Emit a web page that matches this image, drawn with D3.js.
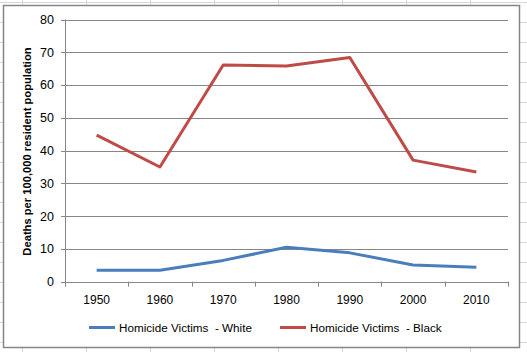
<!DOCTYPE html>
<html>
<head>
<meta charset="utf-8">
<script src="https://cdn.jsdelivr.net/npm/d3@7"></script>
<style>
  html, body { margin: 0; padding: 0; background: #fff; }
  svg text { font-family: "Liberation Sans", Arial, sans-serif; fill: #000; }
</style>
</head>
<body>
<div id="chart"></div>
<script>
// data
const years = ["1950", "1960", "1970", "1980", "1990", "2000", "2010"];
const white = [3.5, 3.5, 6.5, 10.5, 8.8, 5.1, 4.4];
const black = [44.7, 35.0, 66.1, 65.8, 68.4, 37.1, 33.5];
const yTicks = [0, 10, 20, 30, 40, 50, 60, 70, 80];
const seriesNames = ["Homicide Victims  - White", "Homicide Victims  - Black"];
const seriesColors = ["#4a7ebb", "#be4b48"];

const W = 527, H = 352;
const svg = d3.select("#chart").append("svg")
  .attr("width", W)
  .attr("height", H);

// spreadsheet cells behind the chart
const bg = svg.append("g");
bg.selectAll(".row").data(d3.range(2, H, 20)).enter().append("line")
  .attr("x1", 0).attr("x2", W).attr("y1", d => d + 0.5).attr("y2", d => d + 0.5)
  .attr("stroke", "#d0d7e5");
bg.selectAll(".col").data(d3.range(22, W, 64)).enter().append("line")
  .attr("y1", 0).attr("y2", H).attr("x1", d => d + 0.5).attr("x2", d => d + 0.5)
  .attr("stroke", "#d0d7e5");

// chart frame
svg.append("rect")
  .attr("x", 3.5).attr("y", 5.5)
  .attr("width", 516).attr("height", 342)
  .attr("fill", "#fff")
  .attr("stroke", "#868686")
  .attr("stroke-width", 1.5);

const plot = { left: 65, right: 508, top: 19.5, bottom: 281.7 };

const x = d3.scaleBand().domain(years).range([plot.left, plot.right]);
const y = d3.scaleLinear().domain([0, 80]).range([plot.bottom, plot.top]);

const g = svg.append("g");

// gridlines
g.selectAll(".grid").data(yTicks).enter().append("line")
  .attr("x1", plot.left - 4).attr("x2", plot.right)
  .attr("y1", d => Math.round(y(d)) + 0.5).attr("y2", d => Math.round(y(d)) + 0.5)
  .attr("stroke", "#868686");

// y axis
g.append("line")
  .attr("x1", plot.left + 0.5).attr("x2", plot.left + 0.5)
  .attr("y1", plot.top).attr("y2", plot.bottom + 0.5)
  .attr("stroke", "#868686");

g.selectAll(".ylab").data(yTicks).enter().append("text")
  .attr("x", 54)
  .attr("y", d => y(d))
  .attr("dy", "0.35em")
  .attr("text-anchor", "end")
  .style("font-size", "12.5px")
  .text(d => d);

// x axis ticks at category boundaries
const bounds = years.map(d => x(d)).concat([plot.right]);
g.selectAll(".xtick").data(bounds).enter().append("line")
  .attr("x1", d => Math.round(d) + 0.5).attr("x2", d => Math.round(d) + 0.5)
  .attr("y1", plot.bottom).attr("y2", plot.bottom + 5)
  .attr("stroke", "#868686");

g.selectAll(".xlab").data(years).enter().append("text")
  .attr("x", d => x(d) + x.bandwidth() / 2)
  .attr("y", 300)
  .attr("dy", "0.35em")
  .attr("text-anchor", "middle")
  .style("font-size", "12px")
  .text(d => d);

// lines
const line = d3.line()
  .x((d, i) => x(years[i]) + x.bandwidth() / 2)
  .y(d => y(d));

[white, black].forEach((s, i) => {
  g.append("path")
    .datum(s)
    .attr("fill", "none")
    .attr("stroke", seriesColors[i])
    .attr("stroke-width", 3)
    .attr("stroke-linejoin", "round")
    .attr("d", line);
});

// y title
svg.append("text")
  .attr("transform", "translate(31,151.5) rotate(-90)")
  .attr("text-anchor", "middle")
  .style("font-size", "11.2px")
  .style("font-weight", "bold")
  .text("Deaths per 100,000 resident population");

// legend
const legX = [89, 280];
const leg = svg.selectAll(".leg").data(seriesNames).enter().append("g")
  .attr("transform", (d, i) => `translate(${legX[i]},327.5)`);
leg.append("line")
  .attr("x1", 0).attr("x2", 26)
  .attr("stroke", (d, i) => seriesColors[i])
  .attr("stroke-width", 3);
leg.append("text")
  .attr("x", 30)
  .attr("dy", "0.35em")
  .style("font-size", "11.7px")
  .style("white-space", "pre")
  .text(d => d);
</script>
</body>
</html>
